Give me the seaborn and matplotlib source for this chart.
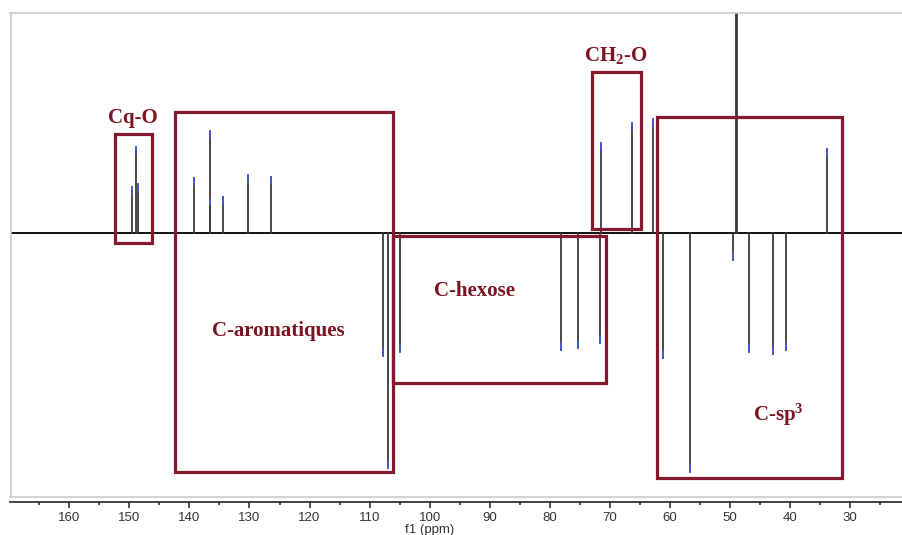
import numpy as np
import pandas as pd
import seaborn as sns
import matplotlib
matplotlib.use("Agg")
import matplotlib.pyplot as plt
from matplotlib.patches import Rectangle

# 13C DEPT-135 spectrum: chemical shifts (ppm) and signed intensities (a.u.)
pos_shift = [149.51, 148.94, 148.61, 139.28, 136.62, 136.50, 134.40, 130.24, 126.36,
             71.45, 66.24, 62.85, 49.02, 48.82, 33.87]
pos_int = [46, 86, 49, 55, 102, 35, 36, 58, 56,
           90, 110, 114, 300, 290, 84]
neg_shift = [107.81, 106.88, 104.93, 78.12, 75.24, 71.62,
             61.18, 56.64, 49.53, 46.76, 42.86, 40.70]
neg_int = [-123, -235, -119, -117, -115, -110,
           -125, -239, -27, -119, -121, -117]

# Assignment regions: (label, ppm_left, ppm_right, int_top, int_bottom)
region_labels = ["Cq-O", "C-aromatiques", "C-hexose", "CH$_2$-O", "C-sp$^3$"]
region_ppm_left = [152.35, 142.40, 106.05, 72.91, 62.18]
region_ppm_right = [146.19, 106.05, 70.68, 64.85, 31.37]
region_top = [98.7, 121.3, -2.7, 161.3, 115.7]
region_bottom = [-9.7, -239.3, -150.0, 4.0, -245.3]
label_ppm = [149.4, 125.25, 92.6, 68.96, 42.0]
label_int = [115, -98, -58, 177, -182]

tick_values = list(range(160, 20, -10))

sns.set_theme(style="white")
plt.rcParams["font.family"] = ["Liberation Sans", "DejaVu Sans"]
plt.rcParams["mathtext.fontset"] = "custom"
plt.rcParams["mathtext.rm"] = "Liberation Serif:bold"
plt.rcParams["mathtext.it"] = "Liberation Serif:bold"
plt.rcParams["mathtext.bf"] = "Liberation Serif:bold"

W, H = 902, 535
fig = plt.figure(figsize=(W / 100, H / 100), dpi=100)
fig.patch.set_facecolor("white")

x0, x1 = 10.5, 902
ytop, ybot, yaxis = 12.7, 497.3, 502.3
ax = fig.add_axes([x0 / W, (H - ybot) / H, (x1 - x0) / W, (ybot - ytop) / H])
ax2 = fig.add_axes([x0 / W, (H - yaxis) / H, (x1 - x0) / W, 0.0001])

XLIM = (169.8, 21.33)
YLIM = (-264.3, 220.3)

# baseline
base = pd.DataFrame({"ppm": [XLIM[0], XLIM[1]], "intensity": [0, 0]})
sns.lineplot(data=base, x="ppm", y="intensity", ax=ax, color="#111111", lw=1.4,
             estimator=None, sort=False)

# peaks as vertical sticks
shifts = pos_shift + neg_shift
ints = pos_int + neg_int
rows = []
tips = []
for i, (s, v) in enumerate(zip(shifts, ints)):
    rows += [(i, s, 0.0), (i, s, v)]
    tip = 7 if abs(v) > 20 else 3
    tips += [(i, s, v), (i, s, v - np.sign(v) * tip)]
peaks = pd.DataFrame(rows, columns=["peak", "ppm", "intensity"])
tipdf = pd.DataFrame(tips, columns=["peak", "ppm", "intensity"])
sns.lineplot(data=peaks, x="ppm", y="intensity", units="peak", estimator=None,
             sort=False, ax=ax, color="#3a3a3a", lw=1.3)
sns.lineplot(data=tipdf, x="ppm", y="intensity", units="peak", estimator=None,
             sort=False, ax=ax, color="#4a55d0", lw=1.4)

box_color = "#85182a"
text_color = "#7c1322"
for lab, pl, pr, t, b, lx, ly in zip(region_labels, region_ppm_left, region_ppm_right,
                                     region_top, region_bottom, label_ppm, label_int):
    ax.add_patch(Rectangle((pr, b), pl - pr, t - b, fill=False,
                           edgecolor=box_color, lw=2.3, zorder=5))
    ax.text(lx, ly, lab, color=text_color, fontsize=15, fontweight="bold",
            family=["Liberation Serif", "DejaVu Serif"], ha="center", va="center",
            zorder=6)

ax.set_xlim(*XLIM)
ax.set_ylim(*YLIM)
ax.set_xticks([])
ax.set_yticks([])
ax.set_xlabel("")
ax.set_ylabel("")
for side in ["left", "top", "bottom"]:
    ax.spines[side].set_color("#c8c8c8")
    ax.spines[side].set_linewidth(1.1)
ax.spines["right"].set_visible(False)

# ppm scale
ax2.set_xlim(*XLIM)
ax2.set_yticks([])
for side in ["left", "top", "right"]:
    ax2.spines[side].set_visible(False)
ax2.spines["bottom"].set_color("#222222")
ax2.spines["bottom"].set_linewidth(1.2)
ax2.set_xticks(tick_values)
ax2.set_xticklabels([str(t) for t in tick_values])
ax2.set_xticks(list(np.arange(165, 20, -10)), minor=True)
ax2.tick_params(axis="x", which="major", direction="out", length=4, width=1.1,
                color="#222222", labelsize=9.5, labelcolor="#333333", pad=3,
                bottom=True)
ax2.tick_params(axis="x", which="minor", direction="out", length=2, width=1.1,
                color="#222222", bottom=True)
ax2.set_xlabel("")

# axis title sits just under the 100 ppm label
label_x = x0 + (XLIM[0] - 100) / (XLIM[0] - XLIM[1]) * (x1 - x0)
fig.text(label_x / W, (H - 530) / H, "f1 (ppm)", fontsize=9.5, color="#333333",
         ha="center", va="center")

fig.savefig("out.png", dpi=100, facecolor="white")
